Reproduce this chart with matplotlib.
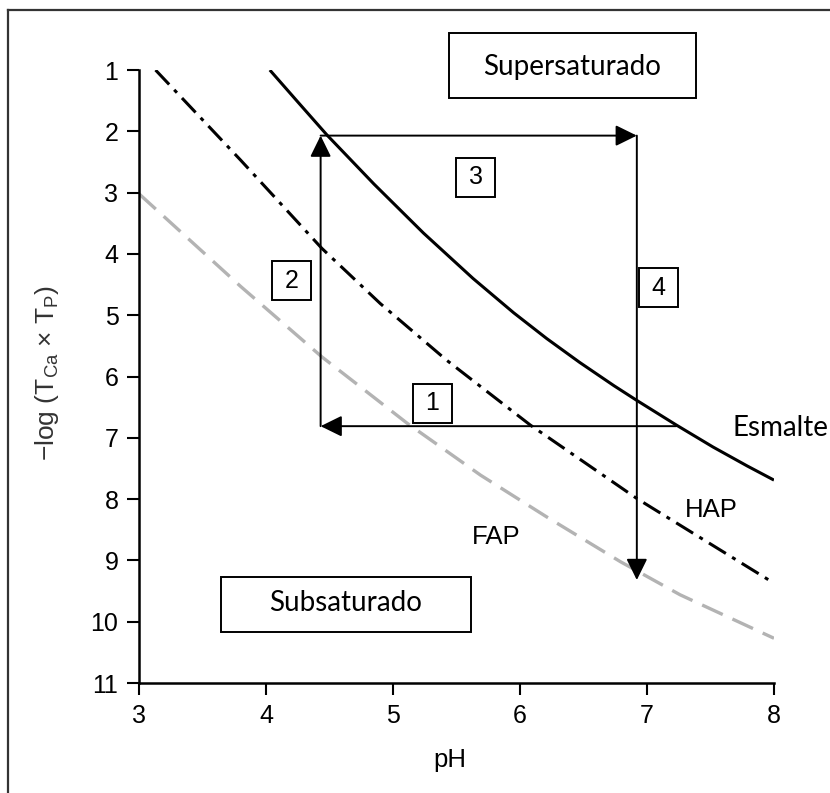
import matplotlib
matplotlib.use("Agg")
import matplotlib.pyplot as plt
from matplotlib.patches import Rectangle
from matplotlib.lines import Line2D

plt.rcParams["font.family"] = ["Liberation Sans", "DejaVu Sans"]
plt.rcParams["mathtext.default"] = "regular"

# curves (pH vs -log(TCa x TP))
esmalte_ph = [4.03, 4.25, 4.48, 4.85, 5.24, 5.63, 5.95, 6.21, 6.47, 6.74, 6.92,
              7.23, 7.52, 7.79, 8.0]
esmalte_y = [1.0, 1.52, 2.06, 2.86, 3.66, 4.40, 4.96, 5.38, 5.77, 6.15, 6.39,
             6.79, 7.15, 7.46, 7.69]
hap_ph = [3.13, 3.80, 4.44, 4.90, 5.42, 6.08, 6.92, 7.96]
hap_y = [1.0, 2.47, 3.91, 4.81, 5.73, 6.79, 7.99, 9.32]
fap_ph = [3.0, 3.8, 4.44, 5.11, 5.69, 6.21, 6.79, 7.26, 8.0]
fap_y = [3.02, 4.53, 5.68, 6.76, 7.61, 8.29, 9.02, 9.56, 10.27]

# caries cycle: corners of the arrow path 1 -> 2 -> 3 -> 4
cycle_ph = [7.23, 4.43, 4.43, 6.92, 6.92]
cycle_y = [6.81, 6.81, 2.07, 2.07, 9.32]
step_labels = ["1", "2", "3", "4"]
step_ph = [5.31, 4.20, 5.65, 7.09]
step_y = [6.44, 4.44, 2.75, 4.55]

x_ticks = [3, 4, 5, 6, 7, 8]
y_ticks = list(range(1, 12))

fig = plt.figure(figsize=(8.3, 7.93), dpi=100)
ax = fig.add_axes([0.1675, 0.1387, 0.765, 0.773])
ax.set_xlim(3, 8)
ax.set_ylim(11, 1)
ax.set_xticks(x_ticks)
ax.set_yticks(y_ticks)
ax.spines[["top", "right"]].set_visible(False)
for s in ["left", "bottom"]:
    ax.spines[s].set_linewidth(1.8)
ax.tick_params(length=8.8, width=1.5, labelsize=18, pad=6)

ax.plot(esmalte_ph, esmalte_y, color="black", lw=2.2, solid_capstyle="butt")
ax.plot(hap_ph, hap_y, color="black", lw=2.2, linestyle=(0, (6.5, 2.4, 1.3, 2.4)))
ax.plot(fap_ph, fap_y, color="#b3b3b3", lw=2.4, linestyle=(0, (6.8, 3.2)))

# arrows
for i in range(4):
    ax.annotate("", xy=(cycle_ph[i + 1], cycle_y[i + 1]), xytext=(cycle_ph[i], cycle_y[i]),
                arrowprops=dict(arrowstyle="-|>,head_length=0.65,head_width=0.32",
                                color="black", lw=1.4, shrinkA=0, shrinkB=0,
                                mutation_scale=20))

# numbered boxes (39 px squares)
bw, bh = 39 / 127, 39 / 61.3
for lab, px, py in zip(step_labels, step_ph, step_y):
    ax.add_patch(Rectangle((px - bw / 2, py - bh / 2), bw, bh, fill=True, fc="white",
                           ec="black", lw=1.4, zorder=4))
    ax.text(px, py, lab, ha="center", va="center", fontsize=18, zorder=5)

# region boxes
ax.add_patch(Rectangle((6.41 - 1.945 / 2, 0.93 - 1.06 / 2), 1.945, 1.06, fill=False,
                       ec="black", lw=1.4, clip_on=False))
ax.text(6.41, 0.95, "Supersaturado", ha="center", va="center", fontsize=20,
        family="Lato")
ax.add_patch(Rectangle((4.63 - 1.974 / 2, 9.72 - 0.90 / 2), 1.974, 0.90, fill=False,
                       ec="black", lw=1.4, clip_on=False))
ax.text(4.63, 9.70, "Subsaturado", ha="center", va="center", fontsize=20,
        family="Lato")

ax.text(7.67, 6.84, "Esmalte", ha="left", va="center", fontsize=20, family="Lato")
ax.text(7.30, 8.18, "HAP", ha="left", va="center", fontsize=18.5)
ax.text(5.62, 8.62, "FAP", ha="left", va="center", fontsize=18.5)

ax.text(0.49, -0.126, "pH", transform=ax.transAxes, ha="center", va="center",
        fontsize=18.5)
fig.text(0.0566, 0.5296, "−log (T$_{Ca}$ × T$_{P}$)", rotation=90, ha="center",
         va="center", fontsize=19, color="#333333")

# outer frame (left and top edges visible)
fig.add_artist(Line2D([0.0102, 0.0102], [0.0, 0.9874], color="#333333", lw=1.6))
fig.add_artist(Line2D([0.0102, 1.0], [0.9874, 0.9874], color="#333333", lw=1.6))

fig.savefig("out.png", dpi=100, facecolor="white")
